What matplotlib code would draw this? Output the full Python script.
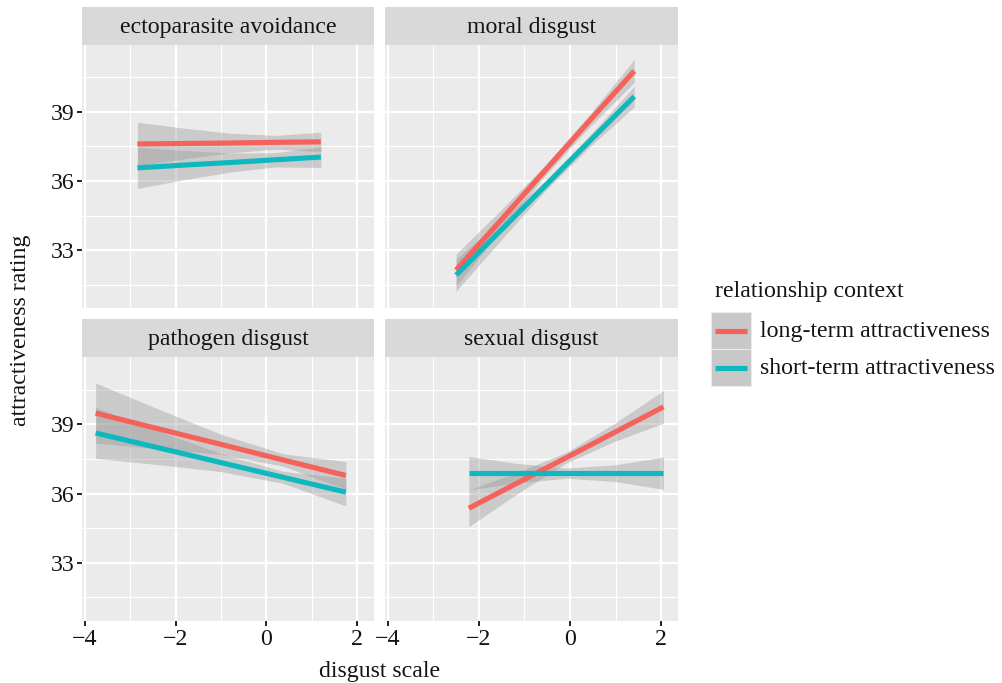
import matplotlib
matplotlib.use("Agg")
import matplotlib.pyplot as plt
from matplotlib.lines import Line2D
from matplotlib.patches import Rectangle

plt.rcParams['font.family'] = ['Liberation Serif', 'DejaVu Serif']

# ---------------- data ----------------
facets = ['ectoparasite avoidance', 'moral disgust', 'pathogen disgust', 'sexual disgust']
contexts = ['long-term attractiveness', 'short-term attractiveness']
colors = ['#F5615B', '#0DB9BE']

ecto_x = [-2.84, -1.83, -0.82, 0.19, 1.20]
ecto_long = [37.61, 37.63, 37.65, 37.68, 37.70]
ecto_long_hw = [0.95, 0.67, 0.43, 0.30, 0.42]
ecto_short = [36.57, 36.69, 36.80, 36.92, 37.04]
ecto_short_hw = [0.90, 0.64, 0.42, 0.31, 0.45]

moral_x = [-2.50, -1.52, -0.545, 0.43, 1.41]
moral_long = [32.13, 34.29, 36.46, 38.62, 40.78]
moral_long_hw = [0.70, 0.44, 0.23, 0.27, 0.50]
moral_short = [31.91, 33.85, 35.79, 37.73, 39.67]
moral_short_hw = [0.70, 0.43, 0.22, 0.25, 0.45]

patho_x = [-3.76, -2.38, -1.005, 0.37, 1.75]
patho_long = [39.48, 38.80, 38.13, 37.45, 36.78]
patho_long_hw = [1.30, 0.86, 0.44, 0.27, 0.60]
patho_short = [38.62, 37.98, 37.34, 36.70, 36.06]
patho_short_hw = [1.10, 0.73, 0.39, 0.26, 0.60]

sex_x = [-2.22, -1.15, -0.085, 0.98, 2.05]
sex_long = [35.36, 36.46, 37.55, 38.65, 39.75]
sex_long_hw = [0.80, 0.46, 0.23, 0.39, 0.71]
sex_short = [36.88, 36.88, 36.88, 36.88, 36.88]
sex_short_hw = [0.72, 0.42, 0.22, 0.36, 0.70]

y_ticks = [33, 36, 39]
x_ticks = [-4, -2, 0, 2]
x_tick_labels = ['\u22124', '\u22122', '0', '2']

panel_data = {
    'ectoparasite avoidance': (ecto_x, [(ecto_long, ecto_long_hw), (ecto_short, ecto_short_hw)]),
    'moral disgust': (moral_x, [(moral_long, moral_long_hw), (moral_short, moral_short_hw)]),
    'pathogen disgust': (patho_x, [(patho_long, patho_long_hw), (patho_short, patho_short_hw)]),
    'sexual disgust': (sex_x, [(sex_long, sex_long_hw), (sex_short, sex_short_hw)]),
}

# ---------------- layout ----------------
W, H = 1003, 683
fig = plt.figure(figsize=(W / 100, H / 100), dpi=100)

col_x = [(82, 292), (385, 293)]
row_y = [(45, 308, 7), (357, 621, 319)]  # panel top, panel bottom, strip top

FS = 17.2
TXT = '#141414'
LW = 3.7

for i, name in enumerate(facets):
    r, c = divmod(i, 2)
    x0, w = col_x[c]
    ptop, pbot, stop = row_y[r]
    ax = fig.add_axes([x0 / W, 1 - pbot / H, w / W, (pbot - ptop) / H])
    ax.set_facecolor('#EBEBEB')
    for s in ax.spines.values():
        s.set_visible(False)
    ax.set_xlim(-4.06, 2.37)
    ax.set_ylim(30.48, 41.91)
    ax.set_xticks(x_ticks)
    ax.set_xticks([-3, -1, 1], minor=True)
    ax.set_yticks(y_ticks)
    ax.set_yticks([31.5, 34.5, 37.5, 40.5], minor=True)
    ax.grid(which='major', color='white', linewidth=1.6)
    ax.grid(which='minor', color='white', linewidth=0.8)
    ax.set_axisbelow(True)
    ax.tick_params(which='minor', length=0)
    ax.tick_params(which='major', length=3.5, width=1.4, color='#222222',
                   labelsize=FS, labelcolor=TXT, pad=2)
    if r == 1:
        ax.set_xticklabels(x_tick_labels)
    else:
        ax.tick_params(axis='x', which='major', length=0, labelbottom=False)
    if c == 1:
        ax.tick_params(axis='y', which='major', length=0, labelleft=False)

    xs, series = panel_data[name]
    for (fit, hw), col in zip(series, colors):
        lo = [f - h for f, h in zip(fit, hw)]
        hi = [f + h for f, h in zip(fit, hw)]
        ax.fill_between(xs, lo, hi, color='#999999', alpha=0.4, linewidth=0, zorder=2)
    for (fit, hw), col in zip(series, colors):
        ax.plot(xs, fit, color=col, linewidth=LW, solid_capstyle='butt', zorder=3)

    sax = fig.add_axes([x0 / W, 1 - ptop / H, w / W, (ptop - stop) / H])
    sax.set_facecolor('#D9D9D9')
    sax.set_xticks([]); sax.set_yticks([])
    for s in sax.spines.values():
        s.set_visible(False)
    sax.text(0.5, 0.47, name, ha='center', va='center', fontsize=FS, color=TXT,
             transform=sax.transAxes)

# axis titles
fig.text(380 / W, 1 - 671 / H, 'disgust scale', ha='center', va='center',
         fontsize=FS, color=TXT)
fig.text(21 / W, 1 - 330 / H, 'attractiveness rating', ha='center', va='center',
         rotation=90, fontsize=FS, color=TXT)

# legend
fig.text(715 / W, 1 - 291 / H, 'relationship context', ha='left', va='center',
         fontsize=FS, color=TXT)
key_tops = [312, 349]
for ktop, col, lab in zip(key_tops, colors, contexts):
    fig.patches.append(Rectangle((711 / W, 1 - (ktop + 37) / H), 40 / W, 37 / H,
                                 transform=fig.transFigure, facecolor='#C8C8C8',
                                 edgecolor='#EBEBEB', linewidth=0.8))
    ym = 1 - (ktop + 19) / H
    fig.lines.append(Line2D([715 / W, 747 / W], [ym, ym], transform=fig.transFigure,
                            color=col, linewidth=LW, solid_capstyle='butt'))
    fig.text(760 / W, ym, lab, ha='left', va='center', fontsize=FS, color=TXT)

fig.savefig('out.png', dpi=100)
